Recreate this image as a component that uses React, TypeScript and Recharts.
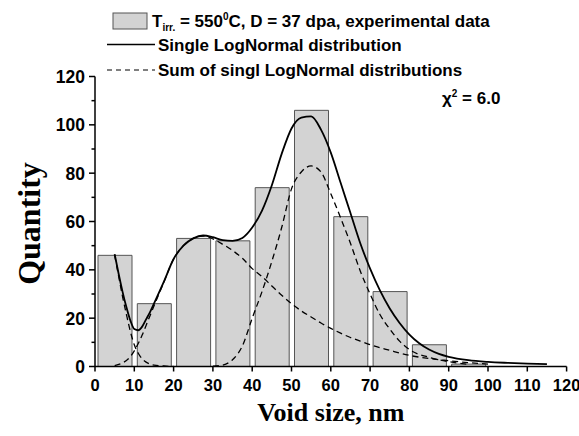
import React from "react";
import { ComposedChart, Bar, Line, XAxis, YAxis, Legend, Label } from "recharts";

// histogram bins (centre of each 10 nm bin) and counts
const binCenters = [5, 15, 25, 35, 45, 55, 65, 75, 85, 95];
const binCounts = [46, 26, 53, 52, 74, 106, 62, 31, 9, 1];

// solid curve (total fit)
const totalX = [5, 6, 7, 8, 9, 10, 11, 12, 13, 14, 15, 17.5, 20, 22.5, 25, 27.5, 30, 32.5, 35, 37.5, 40, 42.5, 45, 47.5, 50, 52.5, 55, 57.5, 60, 62.5, 65, 67.5, 70, 72.5, 75, 77.5, 80, 82.5, 85, 87.5, 90, 95, 100, 105, 110, 115];
const totalY = [46.5, 38.5, 31, 24.5, 19, 15.5, 15, 16.5, 19.5, 22.5, 26, 35, 44.5, 50, 53, 54.2, 53.5, 52.3, 52, 53.2, 57.5, 64.5, 75, 88, 98.5, 103, 103.5, 98, 88.5, 76, 63.5, 51, 40.5, 31.5, 24, 18, 13.2, 9.6, 7, 5.2, 4, 2.6, 1.9, 1.5, 1.2, 1.0];

// dashed components
const smallX = [5, 6, 7, 8, 9, 10, 11, 12, 13, 15, 17.5, 20];
const smallY = [46, 37.5, 29, 21.5, 14.5, 9, 5.5, 3.2, 1.8, 0.6, 0.2, 0];

const midX = [5, 7, 8.5, 10, 11, 12, 13, 14, 15, 17.5, 20, 22.5, 25, 27.5, 30, 32.5, 35, 37.5, 40, 42.5, 45, 47.5, 50, 52.5, 55, 57.5, 60, 62.5, 65, 67.5, 70, 75, 80, 85, 90, 95, 100];
const midY = [0.4, 1.5, 3.2, 6.5, 9.5, 13, 17, 21, 25, 34.8, 44.5, 50, 53, 54, 52.8, 50.6, 48, 44.8, 40.5, 37.2, 33.3, 29.5, 26, 23, 20.5, 18, 15.8, 13.8, 12, 10.5, 9, 6.7, 4.6, 3.3, 2.4, 1.6, 1.0];

const largeX = [30, 32.5, 35, 37.5, 40, 42.5, 45, 47.5, 50, 52.5, 55, 57.5, 60, 62.5, 65, 67.5, 70, 72.5, 75, 77.5, 80, 85, 90, 95];
const largeY = [0.1, 0.6, 2.8, 8.5, 20, 31, 43.5, 57.5, 73.5, 80.5, 83, 80.5, 71.5, 61.5, 51, 39.5, 30, 21.5, 15.5, 10.5, 7, 3.8, 2, 0.9];

const xTicks = [0, 10, 20, 30, 40, 50, 60, 70, 80, 90, 100, 110, 120];
const yTicks = [0, 10, 20, 30, 40, 50, 60, 70, 80, 90, 100, 110, 120];

const bars = binCenters.map((x, i) => ({ x, count: binCounts[i] }));
const toPts = (xs: number[], ys: number[]) => xs.map((x, i) => ({ x, y: ys[i] }));

const SANS = "'Liberation Sans', Arial, sans-serif";
const SERIF = "'Liberation Serif', 'Times New Roman', serif";

const XTick = (props: any) => {
  const { x, y, payload } = props;
  return (
    <g>
      <line x1={x} x2={x} y1={y} y2={y + 5} stroke="#000" strokeWidth={1.5} />
      <text x={x} y={y + 24} textAnchor="middle" fontFamily={SANS} fontWeight="bold" fontSize={16.5} fill="#000">
        {payload.value}
      </text>
    </g>
  );
};

const YTick = (props: any) => {
  const { x, y, payload } = props;
  const major = payload.value % 20 === 0;
  return (
    <g>
      <line x1={x - (major ? 6 : 3.5)} x2={x} y1={y} y2={y} stroke="#000" strokeWidth={1.5} />
      {major && (
        <text x={x - 10} y={y + 6.5} textAnchor="end" fontFamily={SANS} fontWeight="bold" fontSize={17.5} fill="#000">
          {payload.value}
        </text>
      )}
    </g>
  );
};

const LegendBox = () => (
  <svg width={579} height={130} style={{ display: "block" }}>
    <g fontFamily={SANS} fontWeight="bold" fontSize={17} fill="#000">
      <rect x={113} y={13} width={34} height={16} fill="#d3d3d3" stroke="#555" strokeWidth={1} />
      <text x={152} y={27}>
        T<tspan fontSize={10} dy={4}>irr.</tspan>
        <tspan dy={-4}> = 550</tspan>
        <tspan fontSize={10} dy={-7}>0</tspan>
        <tspan dy={7}>C, D = 37 dpa, experimental data</tspan>
      </text>
      <line x1={107} x2={155} y1={44.5} y2={44.5} stroke="#000" strokeWidth={1.6} />
      <text x={158} y={50.5}>Single LogNormal distribution</text>
      <line x1={107} x2={155} y1={70} y2={70} stroke="#000" strokeWidth={1.2} strokeDasharray="5 4" />
      <text x={158} y={75.5}>Sum of singl LogNormal distributions</text>
      <text x={442} y={104}>
        χ<tspan fontSize={10} dy={-7}>2</tspan>
        <tspan dy={7}> = 6.0</tspan>
      </text>
    </g>
  </svg>
);

export default function App() {
  return (
    <div style={{ position: "absolute", left: 0, top: 0, background: "#fff" }}>
      <ComposedChart width={579} height={436} data={bars} margin={{ top: 76.5, right: 12.4, left: 0, bottom: 0 }}>
        <XAxis
          dataKey="x"
          type="number"
          domain={[0, 120]}
          ticks={xTicks}
          interval={0}
          height={69.5}
          tickSize={0}
          tickMargin={0}
          tickLine={false}
          axisLine={{ stroke: "#000", strokeWidth: 1.5 }}
          tick={<XTick />}
        >
          <Label
            content={(p: any) => {
              const vb = p.viewBox;
              return (
                <text x={vb.x + vb.width / 2} y={vb.y + 54} textAnchor="middle" fontFamily={SERIF} fontWeight="bold" fontSize={26} fill="#000">
                  Void size, nm
                </text>
              );
            }}
          />
        </XAxis>
        <XAxis xAxisId="fit" dataKey="x" type="number" domain={[0, 120]} hide />
        <YAxis
          type="number"
          domain={[0, 120]}
          ticks={yTicks}
          interval={0}
          width={95}
          tickSize={0}
          tickMargin={0}
          tickLine={false}
          axisLine={{ stroke: "#000", strokeWidth: 1.5 }}
          tick={<YTick />}
        >
          <Label
            content={(p: any) => {
              const vb = p.viewBox;
              const cx = 29;
              const cy = vb.y + vb.height / 2 + 2;
              return (
                <text x={cx} y={cy} transform={`rotate(-90 ${cx} ${cy})`} textAnchor="middle" dominantBaseline="central" fontFamily={SERIF} fontWeight="bold" fontSize={32} fill="#000">
                  Quantity
                </text>
              );
            }}
          />
        </YAxis>
        <Legend
          layout="vertical"
          align="center"
          verticalAlign="middle"
          wrapperStyle={{ top: 0, left: 0, width: 579 }}
          content={() => <LegendBox />}
        />
        <Bar dataKey="count" barSize={34} fill="#d3d3d3" stroke="#555" strokeWidth={1} isAnimationActive={false} />
        <Line xAxisId="fit" data={toPts(smallX, smallY)} dataKey="y" type="monotone" stroke="#000" strokeWidth={1.3} strokeDasharray="6 4" dot={false} isAnimationActive={false} />
        <Line xAxisId="fit" data={toPts(midX, midY)} dataKey="y" type="monotone" stroke="#000" strokeWidth={1.3} strokeDasharray="6 4" dot={false} isAnimationActive={false} />
        <Line xAxisId="fit" data={toPts(largeX, largeY)} dataKey="y" type="monotone" stroke="#000" strokeWidth={1.3} strokeDasharray="6 4" dot={false} isAnimationActive={false} />
        <Line xAxisId="fit" data={toPts(totalX, totalY)} dataKey="y" type="monotone" stroke="#000" strokeWidth={1.8} dot={false} isAnimationActive={false} />
      </ComposedChart>
    </div>
  );
}
